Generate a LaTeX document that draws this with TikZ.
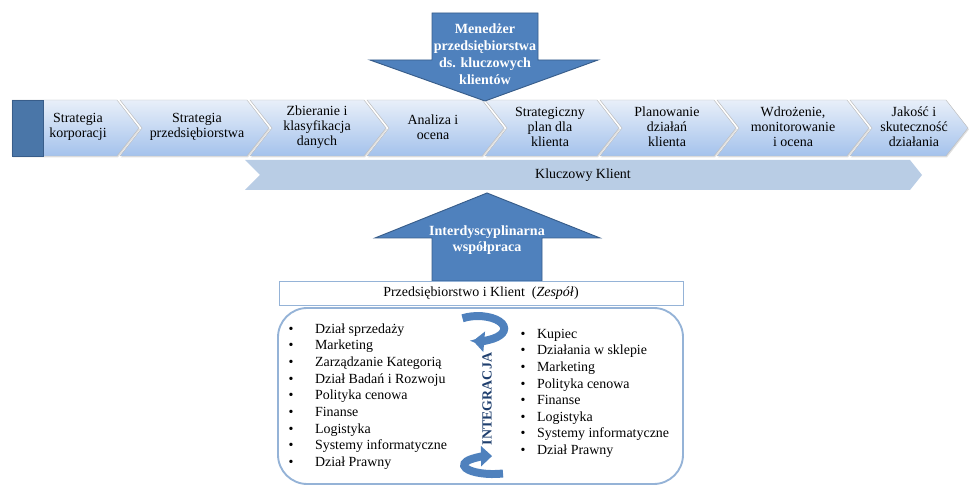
\documentclass[tikz,border=0pt]{standalone}
\usepackage{fontspec}
\setmainfont{Liberation Serif}
\usetikzlibrary{arrows.meta,shadows}
\definecolor{stepTop}{HTML}{E8EFF9}
\definecolor{stepBot}{HTML}{A4C2EC}
\definecolor{arrowBlue}{HTML}{4F81BD}
\definecolor{arrowEdge}{HTML}{385D8A}
\definecolor{barBlue}{HTML}{B9CDE5}
\definecolor{frameBlue}{HTML}{95B3D7}
\definecolor{squareBlue}{HTML}{4A76A8}
\definecolor{integBlue}{HTML}{1F3F6E}
\begin{document}
\begin{tikzpicture}[x=0.03cm,y=0.03cm,
    stepshape/.style={draw=gray!50,top color=stepTop,bottom color=stepBot,
      drop shadow={opacity=0.25,shadow xshift=0.8pt,shadow yshift=-1.2pt}},
    steptext/.style={align=center,font=\fontsize{11.9}{12.75}\selectfont},
    bigarrow/.style={draw=arrowEdge,fill=arrowBlue,line width=0.8pt},
    arrowtext/.style={align=center,text=white,font=\fontsize{12}{14.5}\selectfont\bfseries},
    listtext/.style={anchor=west,inner sep=0pt,font=\fontsize{11.9}{14.2}\selectfont},
    intarrow/.style={draw=arrowBlue,line width=6.8pt,-{Triangle[width=17pt,length=9.5pt]}}]
        \useasboundingbox (0,0) rectangle (970,-488);
        % process steps
        \draw[stepshape] (12,-100) -- (117,-100) -- (139,-128) -- (117,-156) -- (12,-156) -- cycle;
        \draw[draw=arrowEdge,fill=squareBlue] (12,-100) rectangle (43,-156);
        \foreach \l/\r in {120/247, 250/364, 367/482, 485/597, 600/714, 717/847, 850/946}
          \draw[stepshape] (\l,-100) -- (\r,-100) -- ({\r+22},-128) -- (\r,-156) -- (\l,-156) -- ({\l+22},-128) -- cycle;
        \node[steptext] (s1) at (78,-127) {Strategia\\korporacji};
        \node[steptext] (s2) at (197,-127) {Strategia\\przedsiębiorstwa};
        \node[steptext] (s3) at (317,-127) {Zbieranie i\\klasyfikacja\\danych};
        \node[steptext] (s4) at (433,-127) {Analiza i\\ocena};
        \node[steptext] (s5) at (550,-127) {Strategiczny\\plan dla\\klienta};
        \node[steptext] (s6) at (667,-127) {Planowanie\\działań\\klienta};
        \node[steptext] (s7) at (793,-127) {Wdrożenie,\\monitorowanie\\i ocena};
        \node[steptext] (s8) at (914,-127) {Jakość i\\skuteczność\\działania};
        % key client bar
        \fill[barBlue] (245,-160) -- (910,-160) -- (922,-175) -- (910,-190) -- (245,-190) -- (260,-175) -- cycle;
        \node[steptext] (kk) at (583,-175) {Kluczowy Klient};
        % manager arrow
        \draw[bigarrow] (432,-13) -- (538,-13) -- (538,-60) -- (598,-60) -- (485,-101) -- (370,-60) -- (432,-60) -- cycle;
        \node[arrowtext] (mgr) at (485,-54) {Menedżer\\przedsiębiorstwa\\ds. kluczowych\\klientów};
        % cooperation arrow
        \draw[bigarrow] (487,-193) -- (600,-238) -- (542,-238) -- (542,-281) -- (432,-281) -- (432,-238) -- (375,-238) -- cycle;
        \node[arrowtext,font=\fontsize{12}{13.6}\selectfont\bfseries] (coop) at (487,-240) {Interdyscyplinarna\\współpraca};
        % team
        \draw[frameBlue] (279,-281) rectangle (683,-305);
        \node[steptext] (team) at (481,-293) {Przedsiębiorstwo i Klient\ \ (\textit{Zespół})};
        \draw[frameBlue,line width=1.6pt,rounded corners=25pt] (278,-308) rectangle (683,-484);
        \node[listtext] (firm) at (288.5,-396.5) {\begin{tabular}{@{}l@{\hspace{18.3pt}}l@{}}
          \textbullet & Dział sprzedaży\\
          \textbullet & Marketing\\
          \textbullet & Zarządzanie Kategorią\\
          \textbullet & Dział Badań i Rozwoju\\
          \textbullet & Polityka cenowa\\
          \textbullet & Finanse\\
          \textbullet & Logistyka\\
          \textbullet & Systemy informatyczne\\
          \textbullet & Dział Prawny
        \end{tabular}};
        \node[listtext] (client) at (520.5,-393) {\begin{tabular}{@{}l@{\hspace{9.8pt}}l@{}}
          \textbullet & Kupiec\\
          \textbullet & Działania w sklepie\\
          \textbullet & Marketing\\
          \textbullet & Polityka cenowa\\
          \textbullet & Finanse\\
          \textbullet & Logistyka\\
          \textbullet & Systemy informatyczne\\
          \textbullet & Dział Prawny
        \end{tabular}};
        \node[rotate=90,text=integBlue,font=\fontsize{11.9}{14}\selectfont\bfseries] (integ) at (487,-399) {INTEGRACJA};
        \draw[intarrow] (462.5,-318.3) arc[start angle=125, end angle=-100, x radius=26.5, y radius=12.5];
        \draw[intarrow] (503,-473.5) arc[start angle=-70, end angle=-268, x radius=29, y radius=9];
\end{tikzpicture}
\end{document}
